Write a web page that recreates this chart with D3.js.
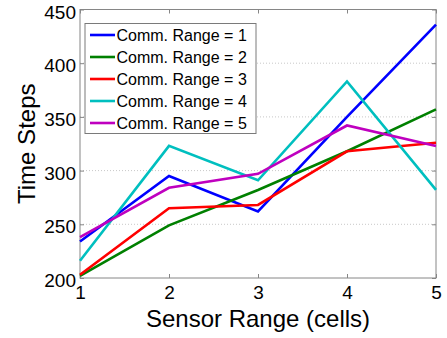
<!DOCTYPE html>
<html>
<head>
<meta charset="utf-8">
<script src="https://cdn.jsdelivr.net/npm/d3@7"></script>
<style>
  body { margin: 0; background: #fff; }
  text { font-family: "Liberation Sans", Arial, sans-serif; fill: #000; }
</style>
</head>
<body>
<div id="chart"></div>
<script>
// sensor range (x) and time steps per comm. range
const sensorRange = [1, 2, 3, 4, 5];
const seriesNames = ["Comm. Range = 1", "Comm. Range = 2", "Comm. Range = 3", "Comm. Range = 4", "Comm. Range = 5"];
const comm1 = [234, 295, 262, 350, 436];
const comm2 = [202, 249, 282, 318, 357];
const comm3 = [203, 265, 268, 318, 326];
const comm4 = [216, 323, 291, 383, 282];
const comm5 = [238, 284, 297, 342, 323];
const seriesColors = ["#0000ff", "#008000", "#ff0000", "#00bfbf", "#bf00bf"];
const xTicks = [1, 2, 3, 4, 5];
const yTicks = [200, 250, 300, 350, 400, 450];

const allSeries = [comm1, comm2, comm3, comm4, comm5];

const W = 447, H = 338;
const margin = { top: 9.5, right: 11, bottom: 60, left: 80 };
const width = W - margin.left - margin.right;
const height = H - margin.top - margin.bottom;

const svg = d3.select("#chart").append("svg")
    .attr("width", W)
    .attr("height", H);

const g = svg.append("g")
    .attr("transform", `translate(${margin.left},${margin.top})`);

const x = d3.scaleLinear().domain([1, 5]).range([0, width]);
const y = d3.scaleLinear().domain([200, 450]).range([height, 0]);

// dotted horizontal gridlines
g.append("g")
  .selectAll("line")
  .data(yTicks.slice(1, -1))
  .enter().append("line")
    .attr("x1", 0).attr("x2", width)
    .attr("y1", d => y(d)).attr("y2", d => y(d))
    .attr("stroke", "#c8c8c8")
    .attr("stroke-width", 1)
    .attr("stroke-dasharray", "1,2");

// axes: ticks inward, box all round
const axisColor = "#868686";
function styleAxis(sel) {
  sel.select(".domain").remove();
  sel.selectAll(".tick line").attr("stroke", axisColor);
  sel.selectAll(".tick text").style("font-size", "19px").attr("fill", "#000");
}

g.append("g")
  .attr("transform", `translate(0,${height})`)
  .call(d3.axisBottom(x).tickValues(xTicks).tickFormat(d3.format("d")).tickSize(-4).tickPadding(8))
  .call(styleAxis);

g.append("g")
  .call(d3.axisTop(x).tickValues(xTicks).tickFormat("").tickSize(-4))
  .call(styleAxis);

g.append("g")
  .call(d3.axisLeft(y).tickValues(yTicks).tickSize(-4).tickPadding(4))
  .call(styleAxis)
  .selectAll(".tick text").attr("dy", "0.45em");

g.append("g")
  .attr("transform", `translate(${width},0)`)
  .call(d3.axisRight(y).tickValues(yTicks).tickFormat("").tickSize(-4))
  .call(styleAxis);

g.append("rect")
  .attr("width", width).attr("height", height)
  .attr("fill", "none")
  .attr("stroke", axisColor)
  .attr("stroke-width", 1);

// lines
const line = d3.line()
  .x((d, i) => x(sensorRange[i]))
  .y(d => y(d));

g.append("g")
  .selectAll("path")
  .data(allSeries)
  .enter().append("path")
    .attr("d", d => line(d))
    .attr("fill", "none")
    .attr("stroke", (d, i) => seriesColors[i])
    .attr("stroke-width", 2.6)
    .attr("stroke-linejoin", "miter");

// axis labels
svg.append("text")
  .attr("x", margin.left + width / 2)
  .attr("y", 327)
  .attr("text-anchor", "middle")
  .style("font-size", "24px")
  .text("Sensor Range (cells)");

svg.append("text")
  .attr("transform", `translate(35,${margin.top + height / 2}) rotate(-90)`)
  .attr("text-anchor", "middle")
  .style("font-size", "24px")
  .text("Time Steps");

// legend
const legend = svg.append("g").attr("transform", "translate(85,23.5)");
legend.append("rect")
  .attr("width", 171).attr("height", 110)
  .attr("fill", "#fff")
  .attr("stroke", "#7a7a7a")
  .attr("stroke-width", 1);

const items = legend.selectAll(".item")
  .data(seriesNames)
  .enter().append("g")
    .attr("class", "item")
    .attr("transform", (d, i) => `translate(0,${11.5 + i * 22})`);

items.append("line")
  .attr("x1", 5).attr("x2", 30)
  .attr("stroke", (d, i) => seriesColors[i])
  .attr("stroke-width", 2.6);

items.append("text")
  .attr("x", 31.5)
  .attr("dy", "0.36em")
  .style("font-size", "16px")
  .text(d => d);
</script>
</body>
</html>
